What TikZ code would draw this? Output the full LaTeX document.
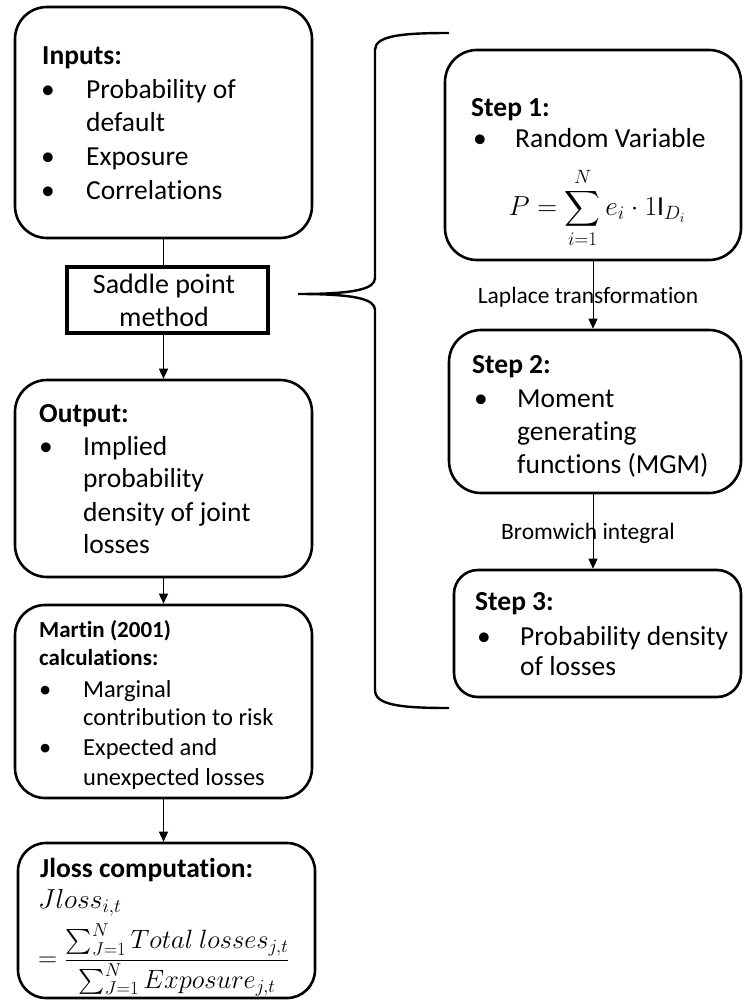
\RequirePackage{fix-cm}
\documentclass[tikz,border=0pt]{standalone}
\usepackage{amsmath}
\usepackage{fontspec}
\setmainfont{Carlito}[Ligatures=NoCommon]
\usetikzlibrary{arrows.meta}
\begin{document}
\begin{tikzpicture}[x=1pt,y=-1pt,
  box/.style={draw, line width=2.6pt, rounded corners=32pt, inner sep=0pt},
  sqbox/.style={draw, line width=3.4pt, inner sep=0pt},
  txt/.style={anchor=base west, inner sep=0pt, font=\fontsize{27.5}{33}\selectfont},
  stxt/.style={anchor=base west, inner sep=0pt, font=\fontsize{24.5}{29}\selectfont},
  hd/.style={anchor=base west, inner sep=0pt, font=\fontsize{27.5}{33}\selectfont\bfseries},
  shd/.style={anchor=base west, inner sep=0pt, font=\fontsize{23}{29}\selectfont\bfseries},
  lbl/.style={inner sep=0pt, font=\fontsize{23.5}{28}\selectfont},
  thin/.style={line width=0.9pt},
  arr/.style={line width=1.4pt, -{Triangle[length=10pt,width=9pt]}},
  tarr/.style={line width=0.9pt, -{Triangle[length=10pt,width=9pt]}},
  brace/.style={line width=2.4pt}
]
\useasboundingbox (0,0) rectangle (744,1003);

% boxes
\node[box, minimum width=297pt, minimum height=231pt] (inputs) at (163.5,122.5) {};
\node[sqbox, minimum width=201pt, minimum height=66pt] (saddle) at (167.5,300) {};
\node[box, minimum width=297pt, minimum height=197pt] (output) at (163.5,478.5) {};
\node[box, minimum width=297pt, minimum height=193pt, rounded corners=30pt] (martin) at (163.5,701.5) {};
\node[box, minimum width=297pt, minimum height=155pt, rounded corners=28pt] (jloss) at (166.5,920.5) {};
\node[box, minimum width=296pt, minimum height=210pt] (step1) at (593,155) {};
\node[box, minimum width=292pt, minimum height=163pt] (step2) at (595,411.5) {};
\node[box, minimum width=287pt, minimum height=127pt, rounded corners=24pt] (step3) at (597.5,633.5) {};

% Inputs text
\node[hd] (tin) at (42,65) {Inputs:};
\node[txt] (bi1) at (41,99) {•};
\node[txt] (ti1) at (86,99) {Probability of};
\node[txt] (ti2) at (86,132) {default};
\node[txt] (bi2) at (41,166) {•};
\node[txt] (ti3) at (86,166) {Exposure};
\node[txt] (bi3) at (41,199) {•};
\node[txt] (ti4) at (86,199) {Correlations};

% Saddle text
\node[txt, anchor=center, align=center, font=\fontsize{28}{33}\selectfont] (tsad) at (164,300) {Saddle point\\method};

% Output text
\node[hd] (tout) at (39,422) {Output:};
\node[txt] (bo1) at (39,455) {•};
\node[txt] (to1) at (83,455) {Implied};
\node[txt] (to2) at (83,487) {probability};
\node[txt] (to3) at (83,521) {density of joint};
\node[txt] (to4) at (83,553) {losses};

% Martin text
\node[shd] (tm1) at (39,637) {Martin (2001)};
\node[shd] (tm2) at (39,665) {calculations:};
\node[stxt] (bm1) at (39,697) {•};
\node[stxt] (tm3) at (83,697) {Marginal};
\node[stxt] (tm4) at (83,725) {contribution to risk};
\node[stxt] (bm2) at (39,755) {•};
\node[stxt] (tm5) at (83,755) {Expected and};
\node[stxt] (tm6) at (83,785) {unexpected losses};

% Jloss text
\node[hd] (tj) at (40,877) {Jloss computation:};
\node[txt] (tj1) at (38,908) {$Jloss_{i,t}$};
\node[txt, anchor=west, font=\fontsize{26.5}{33}\selectfont] (tj2) at (38,960) {$\displaystyle {=}\;\frac{\sum_{J=1}^{N} Total\ losses_{j,t}}{\sum_{J=1}^{N} Exposure_{j,t}}$};

% Step 1 text
\node[hd] (ts1) at (471,117) {Step 1:};
\node[txt] (bs1) at (473,148) {•};
\node[txt] (ts1a) at (515,148) {Random Variable};
\node[txt, anchor=center] (ts1b) at (597,208) {$\displaystyle P=\sum_{i=1}^{N} e_i\cdot 1\mathrm{I}_{D_i}$};

% Step 2 text
\node[hd] (ts2) at (472,373) {Step 2:};
\node[txt] (bs2) at (474,407) {•};
\node[txt] (ts2a) at (517,407) {Moment};
\node[txt] (ts2b) at (517,440) {generating};
\node[txt] (ts2c) at (517,473) {functions (MGM)};

% Step 3 text
\node[hd] (ts3) at (475,610) {Step 3:};
\node[txt] (bs3) at (477,645) {•};
\node[txt] (ts3a) at (520,645) {Probability density};
\node[txt] (ts3b) at (520,675) {of losses};

% connectors
\draw[thin] (inputs.south) -- (inputs.south |- saddle.north);
\draw[arr] (saddle.south -| inputs.south) -- (output.north);
\draw[arr] (output.south) -- (output.south |- martin.north);
\draw[arr] (martin.south) -- (martin.south |- jloss.north);
\draw[tarr] (step1.south) -- (step1.south |- step2.north);
\draw[tarr] (step2.south -| step1.south) -- (step1.south |- step3.north);
\node[lbl] (l1) at (588,297) {Laplace transformation};
\node[lbl] (l2) at (588,533) {Bromwich integral};

% brace
\coordinate (btip) at (298,294);
\draw[brace] (449,33) .. controls (400,33) and (375,36) .. (375,50) -- (375,278)
  .. controls (375,289) and (355,294) .. (btip)
  .. controls (355,294) and (375,299) .. (375,310) -- (375,690)
  .. controls (375,705) and (400,708) .. (449,708);
\end{tikzpicture}
\end{document}
